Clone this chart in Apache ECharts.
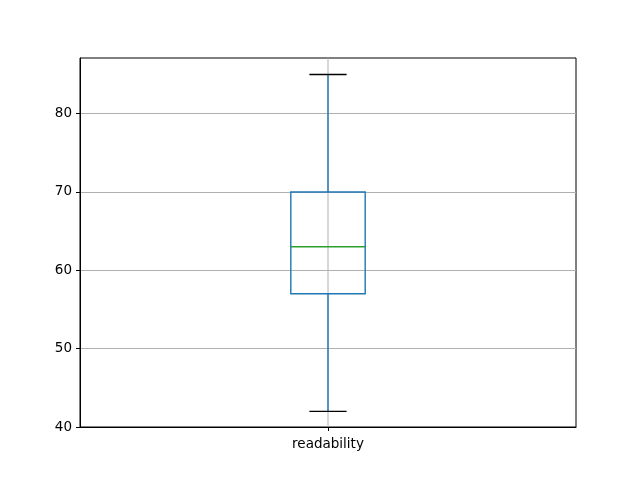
<!DOCTYPE html>
<html><head><meta charset="utf-8">
<script src="https://cdn.jsdelivr.net/npm/echarts@6/dist/echarts.min.js"></script>
<style>html,body{margin:0;padding:0;background:#fff}#c{width:640px;height:480px}</style>
</head><body><div id="c"></div>
<script>
const categories = ['readability'];
const whiskerLow = [42];
const q1 = [57];
const median = [63];
const q3 = [70];
const whiskerHigh = [85];
const yTicks = [40, 50, 60, 70, 80];

const chart = echarts.init(document.getElementById('c'), null, {renderer: 'canvas'});
const data = categories.map((c, i) => [i, whiskerLow[i], q1[i], median[i], q3[i], whiskerHigh[i]]);
const font = 'DejaVu Sans';
chart.setOption({
  animation: false,
  grid: {left: 80, right: 64, top: 58, bottom: 53, show: true, borderColor: '#000', borderWidth: 1, backgroundColor: 'transparent'},
  xAxis: {
    type: 'category', data: categories, boundaryGap: true,
    axisLine: {show: true, lineStyle: {color: '#000', width: 1}},
    axisTick: {show: true, alignWithLabel: true, length: 4, lineStyle: {color: '#000'}},
    axisLabel: {color: '#000', fontFamily: font, fontSize: 13.5, margin: 10},
    splitLine: {show: false}
  },
  yAxis: {
    type: 'value', min: 40, max: 87.1, interval: 10,
    axisLine: {show: true, lineStyle: {color: '#000', width: 1}},
    axisTick: {show: true, length: 4, lineStyle: {color: '#000'}, customValues: yTicks},
    axisLabel: {color: '#000', fontFamily: font, fontSize: 13.5, margin: 8, customValues: yTicks},
    splitLine: {show: true, lineStyle: {color: '#b0b0b0', width: 1}}
  },
  series: [{
    type: 'custom',
    data: data,
    encode: {x: 0, y: [1, 2, 3, 4, 5]},
    renderItem: function (params, api) {
      const x = api.value(0);
      const band = api.size([1, 0])[0];
      const bw = band * 0.15, cw = bw * 0.5;
      const p = k => api.coord([x, api.value(k)]);
      const lo = p(1), b1 = p(2), md = p(3), b3 = p(4), hi = p(5);
      const cx = lo[0];
      const top = api.coord([x, 87.1])[1], bot = api.coord([x, 40])[1];
      const blue = '#1f77b4';
      const lw = 1.4;
      return {type: 'group', children: [
        {type: 'line', shape: {x1: cx, y1: bot, x2: cx, y2: top}, style: {stroke: '#b0b0b0', lineWidth: 1}, z2: 0},
        {type: 'line', shape: {x1: cx, y1: lo[1], x2: cx, y2: b1[1]}, style: {stroke: blue, lineWidth: lw}, z2: 2},
        {type: 'line', shape: {x1: cx, y1: b3[1], x2: cx, y2: hi[1]}, style: {stroke: blue, lineWidth: lw}, z2: 2},
        {type: 'rect', shape: {x: cx - bw / 2, y: b3[1], width: bw, height: b1[1] - b3[1]}, style: {stroke: blue, fill: null, lineWidth: lw}, z2: 2},
        {type: 'line', shape: {x1: cx - bw / 2, y1: md[1], x2: cx + bw / 2, y2: md[1]}, style: {stroke: '#2ca02c', lineWidth: lw}, z2: 3},
        {type: 'line', shape: {x1: cx - cw / 2, y1: lo[1], x2: cx + cw / 2, y2: lo[1]}, style: {stroke: '#000', lineWidth: lw}, z2: 3},
        {type: 'line', shape: {x1: cx - cw / 2, y1: hi[1], x2: cx + cw / 2, y2: hi[1]}, style: {stroke: '#000', lineWidth: lw}, z2: 3}
      ]};
    }
  }]
});
</script></body></html>
